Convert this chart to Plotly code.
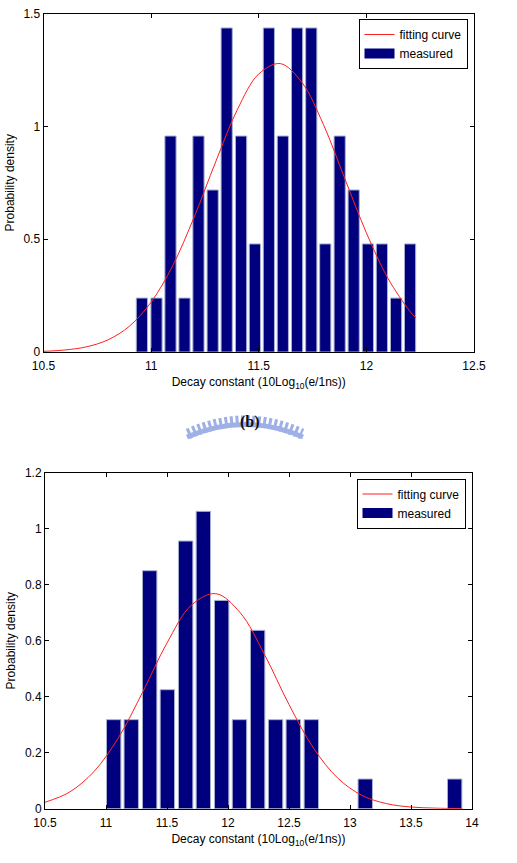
import plotly.graph_objects as go

W, H = 517, 863

# ---------------- data ----------------
top_centers = [10.957, 11.025, 11.090, 11.155, 11.220, 11.286, 11.351, 11.418, 11.482, 11.547,
               11.612, 11.678, 11.744, 11.809, 11.876, 11.941, 12.007, 12.072, 12.138, 12.203]
top_density = [0.239, 0.239, 0.957, 0.239, 0.957, 0.718, 1.436, 0.957, 0.479, 1.436,
               0.957, 1.436, 1.436, 0.479, 0.957, 0.718, 0.479, 0.479, 0.239, 0.479]
top_fit_x = [10.5, 10.6, 10.7, 10.8, 10.9, 11.0, 11.1, 11.2, 11.3, 11.4, 11.5,
             11.6, 11.7, 11.8, 11.9, 12.0, 12.1, 12.2, 12.23]
top_fit_y = [0.003, 0.009, 0.023, 0.054, 0.115, 0.221, 0.382, 0.598, 0.843, 1.073, 1.232,
             1.278, 1.195, 1.009, 0.768, 0.528, 0.327, 0.183, 0.151]

bot_centers = [11.063, 11.207, 11.358, 11.503, 11.653, 11.798, 11.948, 12.094, 12.243, 12.390,
               12.535, 12.683, 13.125, 13.858]
bot_density = [0.318, 0.318, 0.850, 0.425, 0.956, 1.062, 0.744, 0.318, 0.637, 0.318,
               0.318, 0.318, 0.106, 0.106]
bot_fit_x = [10.5, 10.7, 10.9, 11.1, 11.3, 11.5, 11.7, 11.9, 12.1, 12.3, 12.5, 12.7,
             12.9, 13.1, 13.3, 13.5, 13.7, 13.92]
bot_fit_y = [0.023, 0.059, 0.132, 0.252, 0.416, 0.592, 0.727, 0.768, 0.700, 0.550, 0.372, 0.217,
             0.109, 0.047, 0.018, 0.006, 0.002, 0.0003]

top_xticks = [10.5, 11, 11.5, 12, 12.5]
top_yticks = [0, 0.5, 1, 1.5]
bot_xticks = [10.5, 11, 11.5, 12, 12.5, 13, 13.5, 14]
bot_yticks = [0, 0.2, 0.4, 0.6, 0.8, 1, 1.2]

x_title = "Decay constant (10Log<sub>10</sub>(e/1ns))"
y_title = "Probability density"
legend_names = ["fitting curve", "measured"]

# ---------------- styling ----------------
FONT = "Liberation Sans, Arial, sans-serif"
FS = 12
NAVY = "#00007f"
EDGE = "#a8b0d0"
RED = "#ff2020"


def px(x):
    return x / W


def py(y):
    return 1 - y / H


fig = go.Figure()

for (xa, ya, lg, fx, fy, cx, cy, bw) in [
    ("x", "y", "legend", top_fit_x, top_fit_y, top_centers, top_density, 0.052),
    ("x2", "y2", "legend2", bot_fit_x, bot_fit_y, bot_centers, bot_density, 0.118),
]:
    fig.add_trace(go.Scatter(x=fx, y=fy, mode="lines", name=legend_names[0],
                             line=dict(color=RED, width=1, shape="spline"),
                             xaxis=xa, yaxis=ya, legend=lg))
    fig.add_trace(go.Bar(x=cx, y=cy, name=legend_names[1], width=bw, showlegend=False,
                         marker=dict(color=NAVY, line=dict(color=EDGE, width=1)),
                         xaxis=xa, yaxis=ya))
    # legend-only entry drawn as a wide navy swatch
    fig.add_trace(go.Scatter(x=[None], y=[None], mode="lines", name=legend_names[1],
                             line=dict(color=NAVY, width=13),
                             xaxis=xa, yaxis=ya, legend=lg))

axis_common = dict(showline=True, linecolor="black", linewidth=1, mirror="ticks",
                   ticks="inside", ticklen=4, tickcolor="black", showgrid=False,
                   zeroline=False, automargin=False,
                   tickfont=dict(family=FONT, size=FS, color="black"))

legend_common = dict(bordercolor="black", borderwidth=1, bgcolor="white",
                     font=dict(family=FONT, size=FS, color="black"),
                     xanchor="right", yanchor="top", tracegroupgap=0,
                     itemwidth=30)

fig.update_layout(
    width=W, height=H,
    margin=dict(l=0, r=0, t=0, b=0),
    paper_bgcolor="white", plot_bgcolor="white",
    barmode="overlay",
    font=dict(family=FONT, size=FS, color="black"),
    xaxis=dict(domain=[px(43.5), px(474)], range=[10.5, 12.5], tickvals=top_xticks,
               anchor="y", ticklabelstandoff=3,
               title=dict(text=x_title, font=dict(size=FS), standoff=5),
               **axis_common),
    yaxis=dict(domain=[py(352), py(13.5)], range=[0, 1.5], tickvals=top_yticks,
               anchor="x", title=dict(text=y_title, font=dict(size=FS), standoff=6),
               **axis_common),
    xaxis2=dict(domain=[px(45), px(472)], range=[10.5, 14], tickvals=bot_xticks,
                anchor="y2", ticklabelstandoff=3,
                title=dict(text=x_title, font=dict(size=FS), standoff=5),
                **axis_common),
    yaxis2=dict(domain=[py(808.7), py(472.7)], range=[0, 1.2], tickvals=bot_yticks,
                anchor="x2", title=dict(text=y_title, font=dict(size=FS), standoff=6),
                **axis_common),
    legend=dict(x=px(467.5), y=py(19), **legend_common),
    legend2=dict(x=px(465.5), y=py(478.5), **legend_common),
    showlegend=True,
)

# decorative crest watermark with "(b)"
LOGO = "#9fb0e6"
x0, x1, xc = 188, 302, 245
y_end, y_ctrl = 434, 408
fig.add_shape(type="path", xref="paper", yref="paper",
              path=f"M {px(x0)} {py(y_end)} Q {px(xc)} {py(y_ctrl)} {px(x1)} {py(y_end)}",
              line=dict(color=LOGO, width=11, dash="3px,2.5px"))
fig.add_shape(type="path", xref="paper", yref="paper",
              path=f"M {px(x0 - 1)} {py(y_end + 3)} Q {px(xc)} {py(y_ctrl + 4)} {px(x1 + 1)} {py(y_end + 3)}",
              line=dict(color=LOGO, width=5))
fig.add_annotation(x=px(250), y=py(422), xref="paper", yref="paper", text="<b>(b)</b>",
                   showarrow=False, font=dict(family="Liberation Serif, Times New Roman, serif",
                                              size=16, color="#101010"))

fig.write_html("out.html")
